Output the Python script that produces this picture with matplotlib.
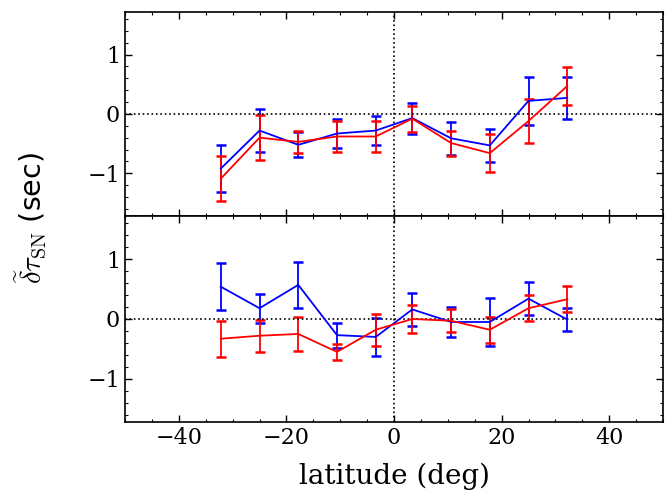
import matplotlib
matplotlib.use("Agg")
import matplotlib.pyplot as plt
from matplotlib.ticker import MultipleLocator

plt.rcParams['font.family'] = 'DejaVu Serif'
plt.rcParams['mathtext.fontset'] = 'cm'

# latitude bin centres (deg)
lat = [-32.2, -25.0, -17.8, -10.6, -3.4, 3.4, 10.6, 17.8, 25.0, 32.2]

# top panel
top_blue = [-0.92, -0.28, -0.52, -0.33, -0.28, -0.07, -0.41, -0.53, 0.22, 0.27]
top_blue_err = [0.39, 0.36, 0.21, 0.24, 0.25, 0.26, 0.28, 0.28, 0.41, 0.35]
top_red = [-1.09, -0.40, -0.47, -0.38, -0.38, -0.08, -0.49, -0.66, -0.12, 0.47]
top_red_err = [0.38, 0.38, 0.19, 0.26, 0.26, 0.22, 0.21, 0.32, 0.37, 0.32]

# bottom panel
bot_blue = [0.54, 0.18, 0.57, -0.27, -0.30, 0.16, -0.05, -0.05, 0.34, -0.01]
bot_blue_err = [0.39, 0.24, 0.38, 0.21, 0.32, 0.27, 0.25, 0.40, 0.27, 0.19]
bot_red = [-0.33, -0.28, -0.25, -0.55, -0.18, 0.00, -0.03, -0.18, 0.18, 0.33]
bot_red_err = [0.30, 0.27, 0.28, 0.14, 0.27, 0.24, 0.19, 0.22, 0.22, 0.22]

fig = plt.figure(figsize=(6.65, 4.9), dpi=100)
ax1 = fig.add_axes([0.188, 0.559, 0.809, 0.417])
ax2 = fig.add_axes([0.188, 0.139, 0.809, 0.42], sharex=ax1)

panels = [(ax1, top_blue, top_blue_err, top_red, top_red_err),
          (ax2, bot_blue, bot_blue_err, bot_red, bot_red_err)]

for ax, b, be, r, re in panels:
    ax.errorbar(lat, b, yerr=be, color='blue', lw=1.3, elinewidth=1.3,
                capsize=3.6, capthick=1.8)
    ax.errorbar(lat, r, yerr=re, color='red', lw=1.3, elinewidth=1.3,
                capsize=3.6, capthick=1.8)
    ax.axhline(0, color='k', ls=':', lw=1.2)
    ax.axvline(0, color='k', ls=':', lw=1.2)
    ax.set_xlim(-50, 50)
    ax.set_ylim(-1.72, 1.72)
    ax.yaxis.set_major_locator(MultipleLocator(1))
    ax.yaxis.set_minor_locator(MultipleLocator(0.2))
    ax.xaxis.set_major_locator(MultipleLocator(20))
    ax.xaxis.set_minor_locator(MultipleLocator(5))
    ax.tick_params(which='both', direction='in', top=True, right=True, labelsize=16)
    ax.tick_params(which='major', length=5, width=1)
    ax.tick_params(which='minor', length=2.5, width=0.8)
    for s in ax.spines.values():
        s.set_linewidth(1.2)

ax1.tick_params(labelbottom=False)
ax2.set_xlabel('latitude (deg)', fontsize=20, labelpad=10)

fig.text(0.045, 0.554, r'$\widetilde{\delta}\tau_{\rm SN}$ (sec)', rotation=90,
         ha='center', va='center', fontsize=20.5, family='DejaVu Sans')

fig.savefig('out.png', dpi=100)
